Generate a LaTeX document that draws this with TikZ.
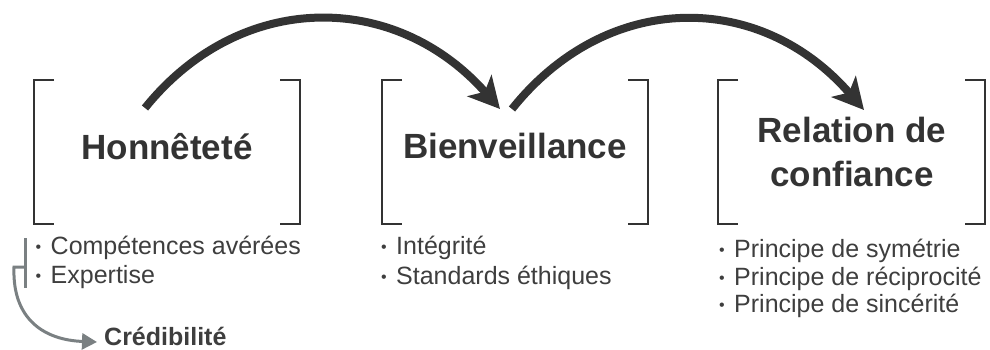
\documentclass[tikz,border=0pt]{standalone}
\usepackage{fontspec}
\setmainfont{Liberation Sans}
\usetikzlibrary{arrows.meta}

\definecolor{ink}{HTML}{333333}
\definecolor{txt}{HTML}{3E3E3E}
\definecolor{side}{HTML}{7A8082}

\newcommand{\itembul}{\raisebox{2pt}{\fontsize{16}{18}\selectfont •}\hspace{9.4pt}}

\begin{document}
\begin{tikzpicture}[x=1pt,y=-1pt,
      title/.style={font=\bfseries\fontsize{35}{44}\selectfont, text=ink, align=center, inner sep=0pt},
      item/.style={font=\fontsize{25}{30}\selectfont, text=txt, anchor=base west, inner sep=0pt},
      brack/.style={line width=2pt, draw=ink},
      link/.style={line width=8pt, draw=ink, -{Stealth[length=31pt,width=32pt,inset=8pt]}},
      sidebar/.style={line width=3pt, draw=side}
    ]
    \useasboundingbox (0,0) rectangle (990,350);

    % brackets round the three titles
    \foreach \l/\r in {34/300, 382/648, 718/985} {
        \draw[brack] (\l+20,80) -- (\l,80) -- (\l,224) -- (\l+20,224);
        \draw[brack] (\r-20,80) -- (\r,80) -- (\r,224) -- (\r-20,224);
    }

    % titles
    \node[title, anchor=base] (hon) at (167,159) {Honnêteté};
    \node[title, anchor=base] (bien) at (515,158) {Bienveillance};
    \node[title] (rel) at (852,152) {Relation de\\confiance};

    % lists
    \node[item] (comp) at (35.5,254) {\itembul Compétences avérées};
    \node[item] (expe) at (35.5,283) {\itembul Expertise};
    \node[item] (integ) at (381,254) {\itembul Intégrité};
    \node[item] (stand) at (381,284) {\itembul Standards éthiques};
    \node[item] (sym) at (719,257) {\itembul Principe de symétrie};
    \node[item] (reci) at (719,285) {\itembul Principe de réciprocité};
    \node[item] (sinc) at (719,312) {\itembul Principe de sincérité};
    \node[item, font=\bfseries\fontsize{25}{30}\selectfont] (cred) at (104,345) {Crédibilité};

    % arrows between the boxes
    \coordinate (hon-out) at (145,108);
    \coordinate (bien-in) at (500,109);
    \coordinate (bien-out) at (512,109);
    \coordinate (rel-in) at (864,110);
    \draw[link] (hon-out) .. controls (240,-10) and (395,-10) .. (bien-in);
    \draw[link] (bien-out) .. controls (607,-10) and (760,-10) .. (rel-in);

    % side bar and arrow to credibility
    \coordinate (bar-top) at (25,238);
    \coordinate (bar-bot) at (25,288);
    \coordinate (bar-mid) at (25,267);
    \coordinate (cred-in) at (97,342);
    \draw[sidebar] (bar-top) -- (bar-bot);
    \draw[sidebar, -{Triangle[length=15pt,width=16pt]}] (bar-mid) -- (14,267)
        .. controls (12,320) and (45,340) .. (cred-in);
\end{tikzpicture}
\end{document}
